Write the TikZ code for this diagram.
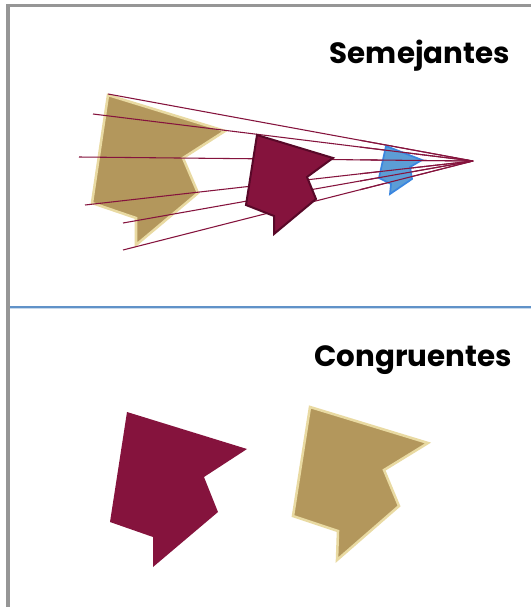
\documentclass[tikz,border=0pt]{standalone}
\usepackage{fontspec}
\newfontfamily\titlefont{Poppins}
\definecolor{goldfill}{RGB}{179,151,92}
\definecolor{goldedge}{RGB}{233,218,162}
\definecolor{maroon}{RGB}{133,19,61}
\definecolor{maroonedge}{RGB}{88,8,40}
\definecolor{bluefill}{RGB}{92,157,214}
\definecolor{blueedge}{RGB}{58,134,224}
\definecolor{framegray}{RGB}{150,150,150}
\definecolor{divider}{RGB}{96,146,200}
\tikzset{
  goldshape/.style={fill=goldfill, draw=goldedge, line width=1.9pt, line join=miter},
  maroonshape/.style={fill=maroon, draw=maroonedge, line width=1.5pt, line join=miter},
  maroonflat/.style={fill=maroon},
  blueshape/.style={fill=bluefill, draw=blueedge, line width=1.3pt, line join=miter},
  ray/.style={draw=maroon, line width=0.8pt},
  title/.style={font=\titlefont\bfseries\fontsize{22}{26}\selectfont, anchor=base east, inner sep=0pt}
}
\begin{document}
\begin{tikzpicture}[x=0.75pt,y=-0.75pt]
\useasboundingbox (0,0) rectangle (531,607);
\fill[white] (0,0) rectangle (531,607);
% frame
\fill[framegray] (6,4) rectangle (531,7);
\fill[framegray] (6,4) rectangle (10,607);
% divider
\draw[divider, line width=0.9pt] (10,307) -- (531,307);
\draw[divider!35, line width=0.6pt] (10,308.5) -- (531,308.5);
% titles
\node[title] (t1) at (510,63) {Semejantes};
\node[title] (t2) at (512,366) {Congruentes};
% focal point and ray starts
\coordinate (F) at (473,161);
\coordinate (r1) at (108,94);
\coordinate (r2) at (93,114);
\coordinate (r3) at (79,157);
\coordinate (r4) at (85,205);
\coordinate (r5) at (123,223);
\coordinate (r6) at (123,250);
% big gold shape
\draw[goldshape] (108,95) -- (225,131) -- (183,158) -- (198,193) -- (136,245) -- (136,218) -- (92,203) -- cycle;
% rays
\foreach \r in {r1,r2,r3,r4,r5,r6} \draw[ray] (\r) -- (F);
% middle maroon shape
\draw[maroonshape] (257,135) -- (333,158) -- (307,177) -- (316,199) -- (274,234) -- (274,216) -- (246,205) -- cycle;
% small blue shape
\draw[blueshape] (386,146) -- (422,160) -- (410,167) -- (412,179) -- (390,194) -- (391,184) -- (379,178) -- cycle;
\begin{scope}
\clip (360,130) rectangle (480,200);
\foreach \r in {r1,r2,r3,r4,r5,r6} \draw[ray] (\r) -- (F);
\end{scope}
% congruent shapes
\fill[maroonflat] (127,412) -- (247,449) -- (204,477) -- (218,512) -- (153,567) -- (153,537) -- (110,522) -- cycle;
\draw[goldshape] (310,407) -- (428,443) -- (384,470) -- (399,506) -- (337,560) -- (338,531) -- (293,516) -- cycle;
\end{tikzpicture}
\end{document}
